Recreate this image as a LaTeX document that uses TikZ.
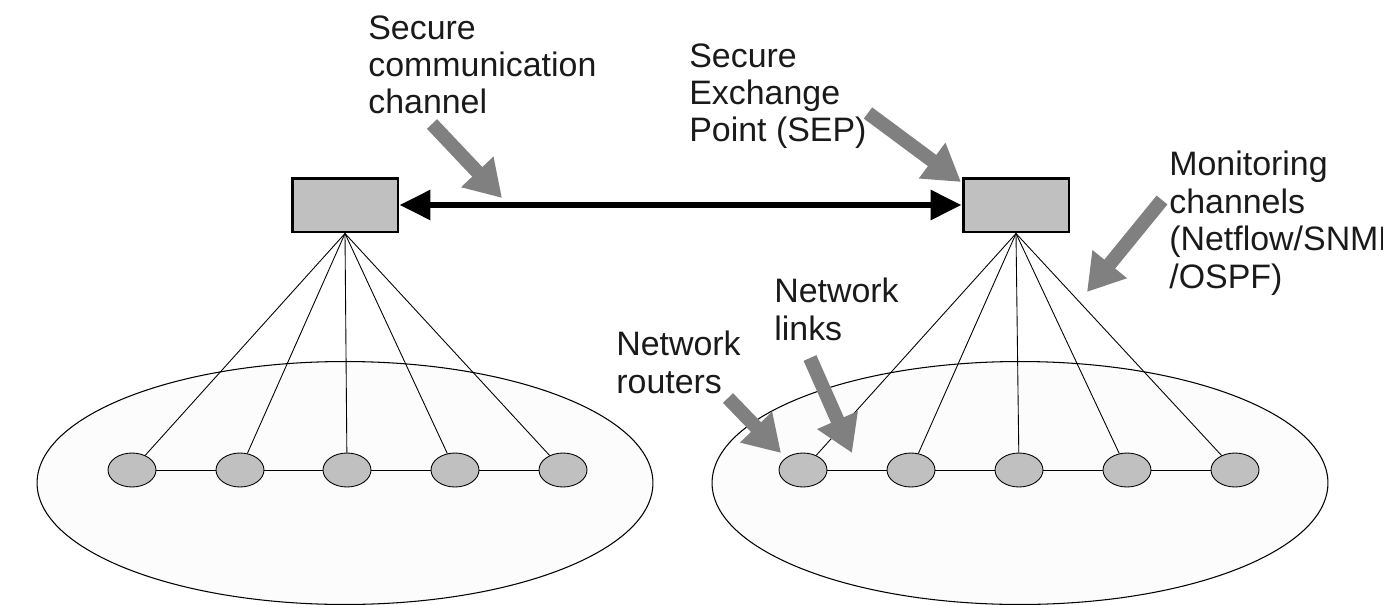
\documentclass[tikz,border=0pt]{standalone}
\usepackage{fontspec}
\setmainfont{Liberation Sans}
\usetikzlibrary{arrows.meta,shapes.geometric}
\begin{document}
\begin{tikzpicture}[x=0.02cm,y=-0.02cm,
  sepbox/.style={draw=black,line width=1.7pt,fill={rgb,255:red,192;green,192;blue,192},minimum width=2.12cm,minimum height=1.08cm,inner sep=0},
  router/.style={ellipse,draw=black,line width=0.5pt,fill={rgb,255:red,192;green,192;blue,192},minimum width=0.96cm,minimum height=0.68cm,inner sep=0},
  net/.style={ellipse,draw=black,line width=0.6pt,fill={rgb,255:red,252;green,252;blue,252},minimum width=12.32cm,minimum height=4.86cm,inner sep=0},
  lbl/.style={anchor=north west,inner sep=0,align=left,font=\fontsize{19.3}{21.3}\selectfont,text={rgb,255:red,26;green,26;blue,26}},
  pointer/.style={draw={rgb,255:red,128;green,128;blue,128},line width=0.28cm,-{Triangle[length=0.72cm,width=0.84cm]}},
  link/.style={line width=0.5pt}
]
\useasboundingbox (0,0) rectangle (1383,605);
% networks
\node[net] (netL) at (345,483) {};
\node[net] (netR) at (1020,483) {};
% routers
\foreach \i/\x in {1/132,2/240,3/347,4/455,5/563}{\node[router] (l\i) at (\x,470) {};}
\foreach \i/\x in {1/803,2/911,3/1019,4/1127,5/1235}{\node[router] (r\i) at (\x,470) {};}
\draw[link] (l1) -- (l2) -- (l3) -- (l4) -- (l5);
\draw[link] (r1) -- (r2) -- (r3) -- (r4) -- (r5);
% SEP boxes
\node[sepbox] (sepL) at (345,205) {};
\node[sepbox] (sepR) at (1016,205) {};
\foreach \i in {1,...,5}{\draw[link] (sepL.south) -- (l\i);}
\foreach \i in {1,...,5}{\draw[link] (sepR.south) -- (r\i);}
% secure channel
\draw[line width=0.12cm,{Triangle[length=0.62cm,width=0.58cm]}-{Triangle[length=0.62cm,width=0.58cm]}] (sepL.east) -- (sepR.east -| sepR.west);
% labels
\node[lbl] (tChan) at (368,15) {Secure\\communication\\channel};
\node[lbl] (tSEP) at (689,43) {Secure\\Exchange\\Point (SEP)};
\node[lbl] (tMon) at (1169,151) {Monitoring\\channels\\(Netflow/SNMP\\/OSPF)};
\node[lbl] (tLinks) at (774,278) {Network\\links};
\node[lbl] (tRout) at (616,331) {Network\\routers};
% pointer arrows
\coordinate (a1s) at (432,124); \coordinate (a1e) at (502,198);
\coordinate (a2s) at (868,113); \coordinate (a2e) at (961,182);
\coordinate (a3s) at (1162,200); \coordinate (a3e) at (1087,292);
\coordinate (a4s) at (728,398); \coordinate (a4e) at (781,453);
\coordinate (a5s) at (810,358); \coordinate (a5e) at (852,453);
\draw[pointer] (a1s) -- (a1e);
\draw[pointer] (a2s) -- (a2e);
\draw[pointer] (a3s) -- (a3e);
\draw[pointer] (a4s) -- (a4e);
\draw[pointer] (a5s) -- (a5e);
\end{tikzpicture}
\end{document}
